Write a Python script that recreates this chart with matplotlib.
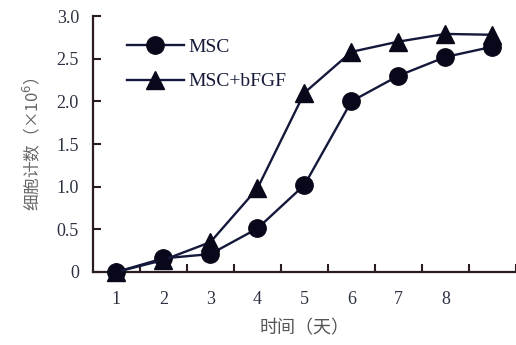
#!/usr/bin/env python3
# -*- coding: utf-8 -*-
"""MSC 与 MSC+bFGF 细胞增殖曲线。"""

import matplotlib
matplotlib.use('Agg')
import matplotlib.pyplot as plt

days = [1, 2, 3, 4, 5, 6, 7, 8, 9]
msc = [0.0, 0.16, 0.21, 0.51, 1.02, 2.0, 2.3, 2.52, 2.64]
msc_bfgf = [0.0, 0.14, 0.35, 0.98, 2.1, 2.58, 2.7, 2.79, 2.78]
day_labels = ['1', '2', '3', '4', '5', '6', '7', '8']
y_ticks = [0, 0.5, 1.0, 1.5, 2.0, 2.5, 3.0]
y_tick_labels = ['0', '0.5', '1.0', '1.5', '2.0', '2.5', '3.0']

line_color = '#14183a'
marker_color = '#08081a'
axis_color = '#2a1c22'
cjk = ['Noto Sans CJK SC', 'DejaVu Sans']
serif = 'Liberation Serif'

fig = plt.figure(figsize=(5.16, 3.45), dpi=100)
ax = fig.add_axes([0.180, 0.2116, 0.820, 0.742])

ax.plot(days, msc, color=line_color, linewidth=1.7, marker='o', markersize=12.5,
        markerfacecolor=marker_color, markeredgecolor=marker_color, label='MSC', clip_on=False, zorder=3)
ax.plot(days, msc_bfgf, color=line_color, linewidth=1.7, marker='^', markersize=12.5,
        markerfacecolor=marker_color, markeredgecolor=marker_color, label='MSC+bFGF', clip_on=False, zorder=3)

ax.set_xlim(0.5, 9.5)
ax.set_ylim(0, 3.0)

# 刻度线在半天位置，标签在整天位置
ax.set_xticks([d + 0.5 for d in days])
ax.set_xticklabels([])
ax.set_xticks(days[:len(day_labels)], minor=True)
ax.set_xticklabels(day_labels, minor=True, fontfamily=serif, fontsize=13, color='#2c3140')
ax.tick_params(axis='x', which='major', direction='in', length=6, width=1.5, color=axis_color)
ax.tick_params(axis='x', which='minor', length=0, pad=14)

ax.set_yticks(y_ticks)
ax.set_yticklabels(y_tick_labels, fontfamily=serif, fontsize=13, color='#2c3140')
ax.tick_params(axis='y', direction='in', length=6, width=1.5, color=axis_color, pad=10)

for side in ['top', 'right']:
    ax.spines[side].set_visible(False)
for side in ['left', 'bottom']:
    ax.spines[side].set_color(axis_color)
    ax.spines[side].set_linewidth(1.6)

ax.set_xlabel('时间（天）', family=cjk, fontsize=13, color='#555555', labelpad=8)
ax.set_ylabel('细胞计数（×10$^{6}$）', family=cjk, fontsize=12, color='#666666', labelpad=10)

leg = ax.legend(loc='upper left', bbox_to_anchor=(0.04, 0.98), frameon=False,
                prop={'family': serif, 'size': 14}, handlelength=2.9,
                handletextpad=0.25, labelspacing=0.85)
for t in leg.get_texts():
    t.set_color('#141a38')

fig.savefig('out.png', dpi=100)
